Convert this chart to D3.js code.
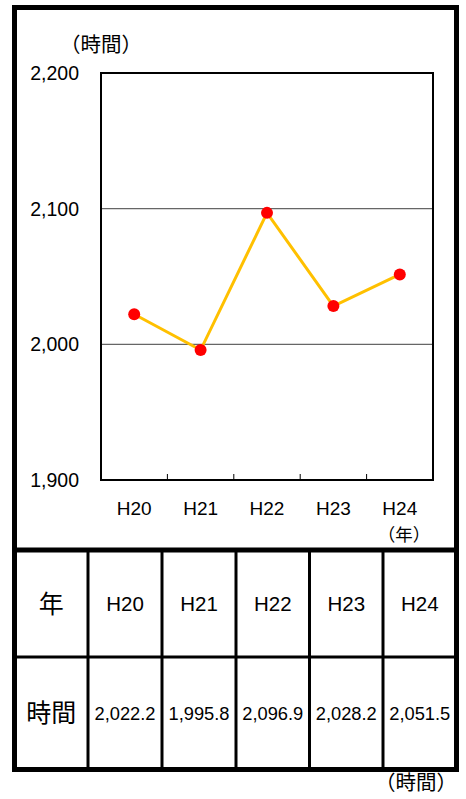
<!DOCTYPE html>
<html>
<head>
<meta charset="utf-8">
<script src="https://cdn.jsdelivr.net/npm/d3@7"></script>
<style>
body { margin: 0; background: #fff; }
text { font-family: "Liberation Sans", Arial, "Noto Sans CJK JP", sans-serif; fill: #000; }
.jp { font-family: "Noto Sans CJK JP", sans-serif; }
</style>
</head>
<body>
<div id="chart"></div>
<script>
var years = ["H20", "H21", "H22", "H23", "H24"];
var hours = [2022.2, 1995.8, 2096.9, 2028.2, 2051.5];
var yTicks = [1900, 2000, 2100, 2200];
var gridTicks = [2000, 2100];

var W = 466, H = 799;
var plot = {left: 101, right: 433, top: 73, bottom: 480};

var svg = d3.select("#chart").append("svg")
  .attr("width", W)
  .attr("height", H);

var x = d3.scaleBand().domain(years).range([plot.left, plot.right]);
var y = d3.scaleLinear().domain([1900, 2200]).range([plot.bottom, plot.top]);

// grid lines
svg.selectAll("line.grid")
  .data(gridTicks)
  .enter().append("line")
  .attr("class", "grid")
  .attr("x1", plot.left).attr("x2", plot.right)
  .attr("y1", function(d){ return y(d); })
  .attr("y2", function(d){ return y(d); })
  .style("stroke", "#666")
  .style("stroke-width", 1.3);

// x ticks between categories, pointing up
svg.selectAll("line.xtick")
  .data(years.slice(1))
  .enter().append("line")
  .attr("class", "xtick")
  .attr("x1", function(d){ return x(d); })
  .attr("x2", function(d){ return x(d); })
  .attr("y1", plot.bottom).attr("y2", plot.bottom - 6)
  .style("stroke", "#000").style("stroke-width", 1);

// plot frame
svg.append("rect")
  .attr("x", plot.left).attr("y", plot.top)
  .attr("width", plot.right - plot.left)
  .attr("height", plot.bottom - plot.top)
  .style("fill", "none").style("stroke", "#000").style("stroke-width", 2);

// y labels
svg.selectAll("text.ylab")
  .data(yTicks)
  .enter().append("text")
  .attr("class", "ylab")
  .attr("x", 79)
  .attr("y", function(d){ return y(d); })
  .attr("dy", "0.36em")
  .attr("text-anchor", "end")
  .style("font-size", "19.5px")
  .text(d3.format(","));

svg.append("text")
  .attr("class", "jp")
  .attr("x", 60).attr("y", 45)
  .attr("dy", "0.36em")
  .style("font-size", "20.5px")
  .text("（時間）");

// x labels
svg.selectAll("text.xlab")
  .data(years)
  .enter().append("text")
  .attr("class", "xlab")
  .attr("x", function(d){ return x(d) + x.bandwidth() / 2; })
  .attr("y", 508)
  .attr("dy", "0.36em")
  .attr("text-anchor", "middle")
  .style("font-size", "19px")
  .text(function(d){ return d; });

svg.append("text")
  .attr("class", "jp")
  .attr("x", x("H24") + x.bandwidth() / 2 - 22).attr("y", 535)
  .attr("dy", "0.36em")
  .style("font-size", "17.5px")
  .text("（年）");

// line + points
var line = d3.line()
  .x(function(d, i){ return x(years[i]) + x.bandwidth() / 2; })
  .y(function(d){ return y(d); });

svg.append("path")
  .datum(hours)
  .attr("d", line)
  .style("fill", "none")
  .style("stroke", "#ffc000")
  .style("stroke-width", 3);

svg.selectAll("circle.pt")
  .data(hours)
  .enter().append("circle")
  .attr("class", "pt")
  .attr("cx", function(d, i){ return x(years[i]) + x.bandwidth() / 2; })
  .attr("cy", function(d){ return y(d); })
  .attr("r", 6)
  .style("fill", "#ff0000");

// table
var colX = [14.5, 88, 162, 236, 309.5, 383, 456.5];
var rowY = [550, 657, 769.5];

svg.selectAll("line.col")
  .data(colX.slice(1, -1))
  .enter().append("line")
  .attr("class", "col")
  .attr("x1", function(d){ return d; }).attr("x2", function(d){ return d; })
  .attr("y1", rowY[0]).attr("y2", rowY[2])
  .style("stroke", "#000").style("stroke-width", 3);

svg.append("line")
  .attr("x1", colX[0]).attr("x2", colX[6])
  .attr("y1", rowY[1]).attr("y2", rowY[1])
  .style("stroke", "#000").style("stroke-width", 3);

svg.append("line")
  .attr("x1", colX[0]).attr("x2", colX[6])
  .attr("y1", rowY[0]).attr("y2", rowY[0])
  .style("stroke", "#000").style("stroke-width", 5);

// outer frame
svg.append("rect")
  .attr("x", 14.5).attr("y", 7.5)
  .attr("width", 442).attr("height", 762)
  .style("fill", "none").style("stroke", "#000").style("stroke-width", 5);

var midX = function(i){ return (colX[i] + colX[i + 1]) / 2; };

svg.append("text")
  .attr("class", "jp")
  .attr("x", midX(0)).attr("y", (rowY[0] + rowY[1]) / 2)
  .attr("dy", "0.36em").attr("text-anchor", "middle")
  .style("font-size", "25px")
  .text("年");

svg.append("text")
  .attr("class", "jp")
  .attr("x", midX(0)).attr("y", (rowY[1] + rowY[2]) / 2)
  .attr("dy", "0.36em").attr("text-anchor", "middle")
  .style("font-size", "25px")
  .text("時間");

svg.selectAll("text.thead")
  .data(years)
  .enter().append("text")
  .attr("class", "thead")
  .attr("x", function(d, i){ return midX(i + 1); })
  .attr("y", (rowY[0] + rowY[1]) / 2)
  .attr("dy", "0.36em").attr("text-anchor", "middle")
  .style("font-size", "20.5px")
  .text(function(d){ return d; });

svg.selectAll("text.tval")
  .data(hours)
  .enter().append("text")
  .attr("class", "tval")
  .attr("x", function(d, i){ return midX(i + 1); })
  .attr("y", (rowY[1] + rowY[2]) / 2)
  .attr("dy", "0.36em").attr("text-anchor", "middle")
  .style("font-size", "18.3px")
  .text(d3.format(",.1f"));

svg.append("text")
  .attr("class", "jp")
  .attr("x", 457).attr("y", 783)
  .attr("dy", "0.36em").attr("text-anchor", "end")
  .style("font-size", "20.5px")
  .text("（時間）");
</script>
</body>
</html>
